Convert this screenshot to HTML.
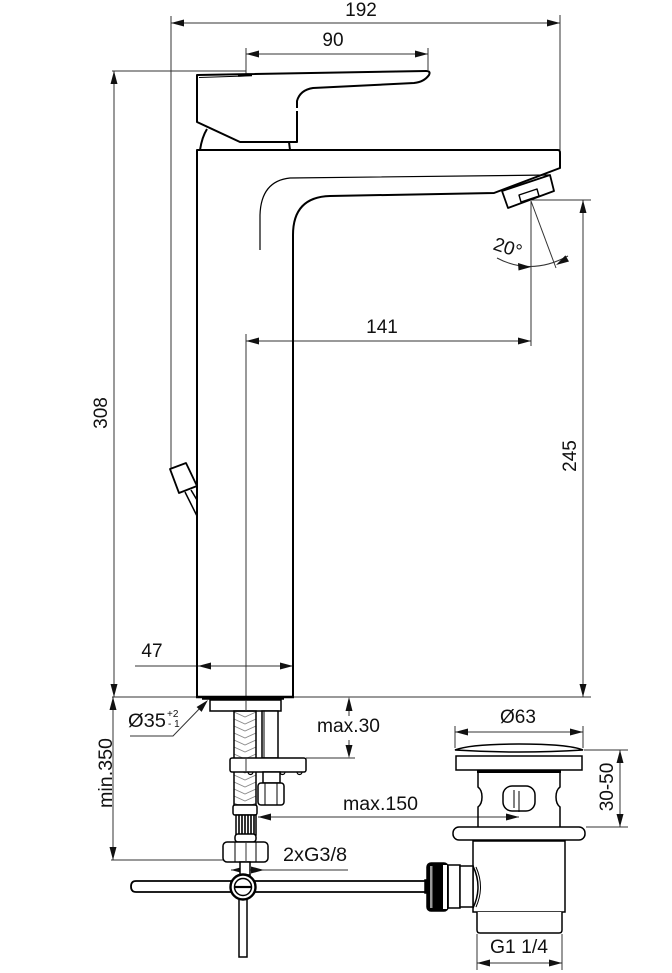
<!DOCTYPE html>
<html><head><meta charset="utf-8"><style>
html,body{margin:0;padding:0;background:#fff;}
svg{display:block;}
text{font-family:"Liberation Sans",Arial,sans-serif;fill:#111;font-size:19px;}
</style></head><body>
<svg width="672" height="973" viewBox="0 0 672 973" xmlns="http://www.w3.org/2000/svg">
<defs>
<pattern id="braid" patternUnits="userSpaceOnUse" x="234" y="0" width="22" height="7">
<path d="M0,-2 L11,3 L22,-2 M0,5 L11,10 L22,5" stroke="#888" stroke-width="0.9" fill="none"/>
</pattern>
</defs>

<!-- dimension / extension lines -->
<g stroke="#333" stroke-width="1" fill="none">
 <line x1="171" y1="23" x2="560" y2="23"/>
 <line x1="171" y1="16" x2="171" y2="468"/>
 <line x1="560" y1="15" x2="560" y2="150"/>
 <line x1="246" y1="54" x2="428" y2="54"/>
 <line x1="246" y1="48" x2="246" y2="74"/>
 <line x1="428" y1="48" x2="428" y2="70"/>
 <line x1="112" y1="71" x2="246" y2="71"/>
 <line x1="114" y1="71" x2="114" y2="697"/>
 <line x1="246" y1="341" x2="531" y2="341"/>
 <line x1="531" y1="201" x2="531" y2="346"/>
 <line x1="246" y1="334" x2="246" y2="697"/>
 <line x1="531" y1="200" x2="591" y2="200"/>
 <line x1="583" y1="200" x2="583" y2="697"/>
 <line x1="112" y1="697" x2="591" y2="697"/>
 <line x1="135" y1="666" x2="293" y2="666"/>
 <line x1="113" y1="697" x2="113" y2="860"/>
 <line x1="111" y1="860" x2="224" y2="860"/>
 <polyline points="130,736 173,736 204,704"/>
 <line x1="349" y1="711" x2="349" y2="716"/>
 <line x1="349" y1="740" x2="349" y2="745"/>
 <line x1="306" y1="758" x2="355" y2="758"/>
 <line x1="258" y1="817" x2="519" y2="817"/>
 <line x1="231" y1="870" x2="348" y2="870"/>
 <line x1="455" y1="732" x2="583" y2="732"/>
 <line x1="455" y1="726" x2="455" y2="748"/>
 <line x1="583" y1="726" x2="583" y2="748"/>
 <line x1="584" y1="750" x2="628" y2="750"/>
 <line x1="586" y1="827" x2="628" y2="827"/>
 <line x1="620" y1="750" x2="620" y2="827"/>
 <line x1="477" y1="934" x2="477" y2="970"/>
 <line x1="562" y1="934" x2="562" y2="970"/>
 <line x1="477" y1="963" x2="562" y2="963"/>
 <line x1="531" y1="201" x2="556" y2="268"/>
 <path d="M497,258 Q531,276 568,256"/>
</g>

<!-- arrowheads -->
<g fill="#111" stroke="none">
 <polygon points="171,23 184,19.5 184,26.5"/>
 <polygon points="560,23 547,19.5 547,26.5"/>
 <polygon points="246,54 259,50.5 259,57.5"/>
 <polygon points="428,54 415,50.5 415,57.5"/>
 <polygon points="114,71 110.5,84 117.5,84"/>
 <polygon points="114,697 110.5,684 117.5,684"/>
 <polygon points="246,341 259,337.5 259,344.5"/>
 <polygon points="531,341 518,337.5 518,344.5"/>
 <polygon points="583,200 579.5,213 586.5,213"/>
 <polygon points="583,697 579.5,684 586.5,684"/>
 <polygon points="198,666 211,662.5 211,669.5"/>
 <polygon points="293,666 280,662.5 280,669.5"/>
 <polygon points="113,697 109.5,710 116.5,710"/>
 <polygon points="113,860 109.5,847 116.5,847"/>
 <polygon points="208,700 201.6,711.9 196.6,707"/>
 <polygon points="349,697 345.5,711 352.5,711"/>
 <polygon points="349,758 345.5,745 352.5,745"/>
 <polygon points="258,817 271,813.5 271,820.5"/>
 <polygon points="519,817 506,813.5 506,820.5"/>
 <polygon points="231,870 244,866.5 244,873.5"/>
 <polygon points="264,870 251,866.5 251,873.5"/>
 <polygon points="455,732 468,728.5 468,735.5"/>
 <polygon points="583,732 570,728.5 570,735.5"/>
 <polygon points="620,750 616.5,763 623.5,763"/>
 <polygon points="620,827 616.5,814 623.5,814"/>
 <polygon points="477,963 490,959.5 490,966.5"/>
 <polygon points="562,963 549,959.5 549,966.5"/>
 <polygon points="531,267 518,263 518.5,270.5"/>
 <polygon points="556,265 569,261.5 565.4,255.4"/>
</g>

<!-- faucet body -->
<g stroke="#000" stroke-width="2" fill="none" stroke-linejoin="round">
 <path d="M297,108 L297,101 Q300,90 313,88 L414,83 Q424,82 429,75 Q431,71 426,71 L197,75 L197,122 L240,142 L297,142 L297,111"/>
 <path d="M200,150 Q202,137 207,129"/>
 <path d="M290,150 L289,142"/>
 <path d="M197,697 L197,150 L558,150 Q560,150 560,153 L560,168 L494,193 L330,196 Q293,197 293,235 L293,697"/>
 <line x1="196" y1="697" x2="294" y2="697" stroke-width="2.5"/>
 <polygon points="502,191 550,175 554,191 508,208" fill="#fff" stroke-width="1.8"/>
 <polygon points="519,195 537,189 539,196 521,202" stroke-width="1.4"/>
 <polygon points="170,469 186,463 197,486 179,493" fill="#fff" stroke-width="1.8"/>
 <path d="M185,492 L197,516 M191,490 L197,500" stroke-width="1.5"/>
</g>
<path d="M199,77.5 L245,76" stroke="#000" stroke-width="1" fill="none"/>
<path d="M238,75.5 L252,75" stroke="#000" stroke-width="2.5" fill="none"/>
<path d="M260,250 L260,215 Q261,181 290,178 L549,175" stroke="#000" stroke-width="1.2" fill="none"/>

<!-- supply hose section -->
<g stroke="#000" stroke-width="1.5" fill="#fff">
 <line x1="202" y1="698.5" x2="284" y2="698.5" stroke-width="2.5"/>
 <rect x="210" y="700" width="71" height="11"/>
 <rect x="234" y="711" width="22" height="94" fill="url(#braid)"/>
 <rect x="262" y="711" width="16" height="47"/>
 <line x1="264" y1="711" x2="264" y2="758" stroke-width="1"/>
 <rect x="230" y="758" width="76" height="14" rx="2"/>
 <path d="M248,772 a2.5,2.5 0 0 0 5,0 M271,772 a2.5,2.5 0 0 0 5,0 M280,772 a2.5,2.5 0 0 0 5,0 M297,772 a2.5,2.5 0 0 0 5,0" fill="none" stroke-width="1.2"/>
 <rect x="263" y="772" width="17" height="11"/>
 <rect x="258" y="783" width="26" height="22" rx="3"/>
 <line x1="265" y1="783" x2="265" y2="805" stroke-width="1"/>
 <line x1="277" y1="783" x2="277" y2="805" stroke-width="1"/>
 <rect x="233" y="805" width="24" height="10" rx="2"/>
 <rect x="236" y="815" width="20" height="20"/>
 <path d="M239,815 V835 M242,815 V835 M245,815 V835 M248,815 V835 M251,815 V835 M254,815 V835" stroke-width="1.6" fill="none"/>
 <rect x="235" y="834" width="21" height="8" rx="3"/>
 <rect x="223" y="842" width="45" height="20" rx="4"/>
 <line x1="235" y1="842" x2="235" y2="862" stroke-width="1"/>
 <line x1="256" y1="842" x2="256" y2="862" stroke-width="1"/>
 <rect x="240" y="862" width="10" height="13"/>
 <path d="M425,881 L136,881 Q131,881 131,886.5 Q131,892 136,892 L425,892" stroke-width="1.8"/>
 <rect x="239" y="898" width="8" height="59"/>
 <circle cx="243" cy="887" r="12.5" stroke-width="2.4"/>
 <circle cx="243" cy="887" r="8.5" stroke-width="1.5"/>
 <line x1="235" y1="887" x2="251" y2="887" stroke-width="2.2"/>
</g>
<line x1="246" y1="700" x2="246" y2="711" stroke="#333" stroke-width="1"/>
<line x1="246" y1="758" x2="246" y2="772" stroke="#333" stroke-width="1"/>
<line x1="246" y1="842" x2="246" y2="862" stroke="#333" stroke-width="1"/>

<!-- waste -->
<g stroke="#000" stroke-width="1.5" fill="#fff">
 <path d="M455,750 Q470,744 519,744 Q568,744 583,750 Q519,754 455,750 Z"/>
 <rect x="456" y="756" width="126" height="14"/>
 <path d="M478,773 L478,787 Q482,790 482,797 Q482,804 478,807 L478,827 M560,773 L560,787 Q556,790 556,797 Q556,804 560,807 L560,827" fill="none"/>
 <rect x="503" y="786" width="32" height="25" rx="9"/>
 <line x1="514" y1="790" x2="514" y2="808" stroke-width="1"/>
 <line x1="519" y1="791" x2="519" y2="812" stroke-width="1"/>
 <rect x="453" y="827" width="132" height="13" rx="6"/>
 <rect x="473" y="841" width="92" height="71"/>
 <path d="M477,912 L477,930 Q477,933 480,933 L559,933 Q562,933 562,930 L562,912"/>
 <rect x="448" y="865" width="12" height="43"/>
 <rect x="460" y="866" width="13" height="41"/>
 <path d="M473,866 Q483,887 473,908" fill="none"/>
 <path d="M476,867 Q485,887 476,907" fill="none" stroke-width="1"/>
 <rect x="425" y="880" width="3" height="13" fill="#000"/>
 <rect x="427" y="863" width="21" height="48" rx="4" fill="#000"/>
</g>
<rect x="430" y="866" width="2.5" height="42" fill="#999"/>
<rect x="443" y="865" width="4" height="44" fill="#fff"/>
<rect x="477" y="770" width="84" height="3" fill="#000"/>

<!-- labels -->
<text x="361" y="16" text-anchor="middle">192</text>
<text x="333" y="46" text-anchor="middle">90</text>
<text transform="translate(107,413) rotate(-90)" text-anchor="middle">308</text>
<text x="382" y="333" text-anchor="middle">141</text>
<text transform="translate(576,456) rotate(-90)" text-anchor="middle">245</text>
<text transform="translate(508,247) rotate(18)" text-anchor="middle" y="7">20°</text>
<text x="152" y="657" text-anchor="middle">47</text>
<text x="128" y="727" textLength="38" lengthAdjust="spacingAndGlyphs">Ø35</text>
<text x="167" y="717" style="font-size:10px">+2</text>
<text x="168" y="727" style="font-size:10px">- 1</text>
<text x="317" y="732" textLength="63" lengthAdjust="spacingAndGlyphs">max.30</text>
<text x="343" y="810" textLength="75" lengthAdjust="spacingAndGlyphs">max.150</text>
<text x="283" y="861" textLength="64" lengthAdjust="spacingAndGlyphs">2xG3/8</text>
<text transform="translate(112,773) rotate(-90)" text-anchor="middle" textLength="70" lengthAdjust="spacingAndGlyphs">min.350</text>
<text x="518" y="723" text-anchor="middle">Ø63</text>
<text transform="translate(613,787) rotate(-90)" text-anchor="middle">30-50</text>
<text x="519" y="953" text-anchor="middle" textLength="58" lengthAdjust="spacingAndGlyphs">G1 1/4</text>
</svg>
</body></html>
